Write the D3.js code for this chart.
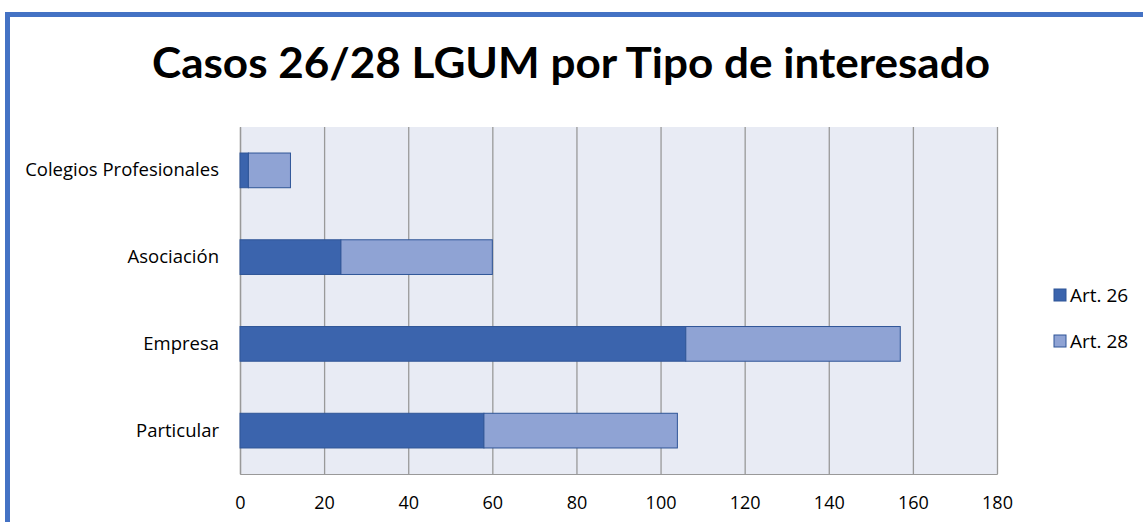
<!DOCTYPE html>
<html><head><meta charset="utf-8">
<script src="https://cdn.jsdelivr.net/npm/d3@7"></script>
<style>body{margin:0;background:#fff;}svg{display:block;}</style>
</head><body>
<svg id="c" width="1143" height="522"></svg>
<script>
const categories = ["Colegios Profesionales","Asociación","Empresa","Particular"];
const art26 = [2, 24, 106, 58];
const art28 = [10, 36, 51, 46];
const seriesNames = ["Art. 26","Art. 28"];
const tickValues = [0,20,40,60,80,100,120,140,160,180];
const colors = ["#3B64AD","#8FA3D4"];

const svg = d3.select("#c");
const font = "Lato, 'Open Sans', sans-serif";
const lfont = "'Open Sans', sans-serif";
// frame
svg.append("rect").attr("x",0).attr("y",0).attr("width",1143).attr("height",522).attr("fill","#fff");
svg.append("line").attr("x1",5).attr("x2",1143).attr("y1",14.5).attr("y2",14.5).attr("stroke","#4472C4").attr("stroke-width",5);
svg.append("line").attr("x1",7.5).attr("x2",7.5).attr("y1",12).attr("y2",522).attr("stroke","#4472C4").attr("stroke-width",5);

svg.append("text").attr("x",571).attr("y",78).attr("text-anchor","middle")
  .attr("font-family",font).attr("font-weight","bold").attr("font-size",42).attr("fill","#000")
  .attr("textLength",838).attr("lengthAdjust","spacingAndGlyphs")
  .text("Casos 26/28 LGUM por Tipo de interesado");

const m = {l:240, r:997, t:127, b:474};
const x = d3.scaleLinear().domain([0,180]).range([m.l,m.r]);
const y = d3.scaleBand().domain(categories).range([m.t,m.b]).paddingInner(0.6).paddingOuter(0.3);

svg.append("rect").attr("x",m.l).attr("y",m.t).attr("width",m.r-m.l).attr("height",m.b-m.t).attr("fill","#E8EBF4");

const xAxis = svg.append("g").attr("transform",`translate(0,${m.b})`)
  .call(d3.axisBottom(x).tickValues(tickValues).tickSize(-(m.b-m.t)).tickFormat(d3.format("d")));
xAxis.select(".domain").attr("stroke","#999");
xAxis.selectAll(".tick line").attr("stroke","#999").attr("stroke-width",1.3);
xAxis.selectAll(".tick text").attr("font-family",lfont).attr("font-size",18).attr("fill","#000").attr("dy","1.75em");

const yAxis = svg.append("g").attr("transform",`translate(${m.l},0)`)
  .call(d3.axisLeft(y).tickSize(0).tickPadding(21));
yAxis.select(".domain").attr("stroke","#999").attr("stroke-width",1.3);
yAxis.selectAll(".tick text").attr("font-family",lfont).attr("font-size",18.5).attr("fill","#000");

const data = categories.map((c,i)=>({cat:c, a:art26[i], b:art28[i]}));
const stack = d3.stack().keys(["a","b"])(data);
svg.append("g").selectAll("g").data(stack).join("g")
  .attr("fill",(d,i)=>colors[i])
  .selectAll("rect").data(d=>d).join("rect")
  .attr("x",d=>x(d[0])).attr("width",d=>x(d[1])-x(d[0]))
  .attr("y",d=>y(d.data.cat)).attr("height",y.bandwidth())
  .attr("stroke","#2F5597").attr("stroke-width",1);

const leg = svg.append("g");
seriesNames.forEach((n,i)=>{
  const g = leg.append("g").attr("transform",`translate(1054,${289+i*46})`);
  g.append("rect").attr("width",12).attr("height",12).attr("fill",colors[i]).attr("stroke","#2F5597").attr("stroke-width",1);
  g.append("text").attr("x",16).attr("y",12.5).attr("font-family",lfont).attr("font-size",19).attr("fill","#000").text(n);
});
</script>
</body></html>
